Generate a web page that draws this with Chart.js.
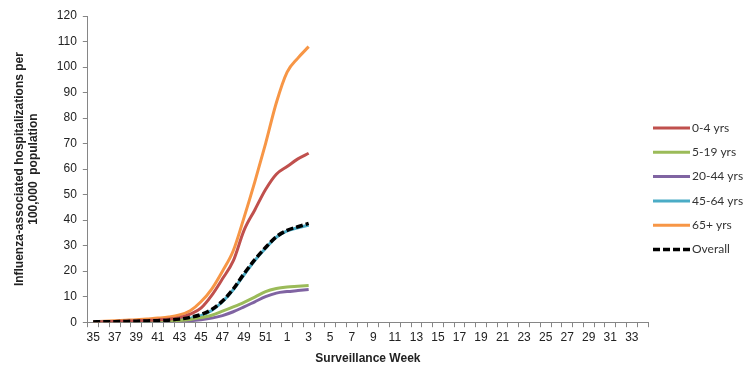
<!DOCTYPE html>
<html>
<head>
<meta charset="utf-8">
<script src="https://cdn.jsdelivr.net/npm/chart.js@4/dist/chart.umd.min.js"></script>
<style>
  html, body { margin: 0; padding: 0; background: #fff; }
  #wrap { width: 756px; height: 378px; }
</style>
</head>
<body>
<div id="wrap"><canvas id="fluChart" width="756" height="378"></canvas></div>
<script>
// semanas de vigilancia (35..52, 1..34)
var semanas = ['35','36','37','38','39','40','41','42','43','44','45','46','47','48','49','50','51','52',
  '1','2','3','4','5','6','7','8','9','10','11','12','13','14','15','16','17','18','19','20',
  '21','22','23','24','25','26','27','28','29','30','31','32','33','34'];

var grupos = ['0-4 yrs', '5-19 yrs', '20-44 yrs', '45-64 yrs', '65+ yrs', 'Overall'];

// tasas acumuladas por 100,000 (semana 35 a semana 3)
var tasa0a4   = [0.1,0.2,0.3,0.4,0.5,0.7,0.9,1.2,1.8,3.2,5.5,10.5,17,24,36,44,52,58,61,64,66.2];
var tasa5a19  = [0.1,0.1,0.2,0.2,0.3,0.3,0.4,0.5,0.7,1.1,1.8,2.7,4.3,6.0,7.8,9.8,12,13.2,13.8,14.1,14.4];
var tasa20a44 = [0.05,0.1,0.1,0.1,0.2,0.2,0.2,0.3,0.4,0.6,1.0,1.6,2.6,4.1,6.0,8.0,10,11.4,12,12.4,12.8];
var tasa45a64 = [0.1,0.1,0.2,0.2,0.3,0.4,0.5,0.7,1.0,1.6,2.6,4.6,8,12.7,18.6,24.2,29,33.3,35.8,37,38];
var tasa65    = [0.2,0.4,0.6,0.8,1.0,1.3,1.6,2.0,2.8,4.5,8,13,20,28,41,55,70,86,98,103.5,108];
var tasaTotal = [0.1,0.2,0.2,0.3,0.4,0.5,0.6,0.8,1.2,1.9,3.0,5.0,8.3,13,19,24.5,29.3,33.5,36,37.4,38.7];

var colores = ['#C0504D', '#9BBB59', '#8064A2', '#4BACC6', '#F79646', '#000000'];

function serie(i, datos, extra) {
    var ds = {
        label: grupos[i],
        data: datos,
        borderColor: colores[i],
        backgroundColor: colores[i],
        borderWidth: 3,
        pointRadius: 0,
        pointHoverRadius: 0,
        cubicInterpolationMode: 'monotone',
        fill: false
    };
    for (var k in extra) ds[k] = extra[k];
    return ds;
}

// leyenda a la derecha, dibujada a mano
var leyenda = {
    id: 'leyenda',
    afterDraw: function (chart) {
        var ctx = chart.ctx;
        var x0 = 653, y0 = 128, paso = 24.3;
        ctx.save();
        chart.data.datasets.forEach(function (ds, i) {
            var y = y0 + i * paso;
            ctx.beginPath();
            ctx.lineWidth = ds.borderWidth;
            ctx.strokeStyle = ds.borderColor;
            ctx.setLineDash(ds.borderDash || []);
            ctx.moveTo(x0, y);
            ctx.lineTo(x0 + 37, y);
            ctx.stroke();
            ctx.setLineDash([]);
            ctx.fillStyle = '#333';
            ctx.font = '12px Lato';
            ctx.textBaseline = 'middle';
            ctx.fillText(ds.label, x0 + 39, y);
        });
        ctx.restore();
    }
};

var fluCtx = document.getElementById('fluChart');
var config = {
    type: 'line',
    data: {
        labels: semanas,
        datasets: [
            serie(0, tasa0a4, {}),
            serie(1, tasa5a19, {}),
            serie(2, tasa20a44, {}),
            serie(3, tasa45a64, {}),
            serie(4, tasa65, {}),
            serie(5, tasaTotal, { borderDash: [7, 3], borderWidth: 3.5, order: -1 })
        ]
    },
    options: {
        responsive: false,
        animation: false,
        layout: { padding: { left: 10, right: 108, top: 16, bottom: 12 } },
        plugins: {
            legend: { display: false },
            tooltip: { enabled: false }
        },
        scales: {
            x: {
                offset: true,
                grid: { offset: true, drawOnChartArea: false, drawTicks: true, tickLength: 5, color: '#868686' },
                border: { display: true, color: '#868686', width: 1 },
                ticks: {
                    autoSkip: false,
                    maxRotation: 0,
                    padding: 3,
                    color: '#222',
                    font: { family: 'Liberation Sans', size: 12 },
                    callback: function (val, idx) {
                        return idx % 2 === 0 ? this.getLabelForValue(val) : '';
                    }
                },
                title: {
                    display: true,
                    text: 'Surveillance Week',
                    color: '#222',
                    font: { family: 'Liberation Sans', size: 12, weight: 'bold' },
                    padding: { top: 4, bottom: 0 }
                }
            },
            y: {
                min: 0,
                max: 120,
                grid: { drawOnChartArea: false, drawTicks: true, tickLength: 5, color: '#868686' },
                border: { display: true, color: '#868686', width: 1 },
                ticks: {
                    stepSize: 10,
                    padding: 6,
                    color: '#222',
                    font: { family: 'Liberation Sans', size: 12 }
                },
                title: {
                    display: true,
                    text: ['Influenza-associated hospitalizations per', '100,000  population'],
                    color: '#222',
                    font: { family: 'Liberation Sans', size: 12, weight: 'bold', lineHeight: 1.2 },
                    padding: { top: 2, bottom: 10 }
                }
            }
        }
    },
    plugins: [leyenda]
};
window.fluChart = new Chart(fluCtx, config);
</script>
</body>
</html>
